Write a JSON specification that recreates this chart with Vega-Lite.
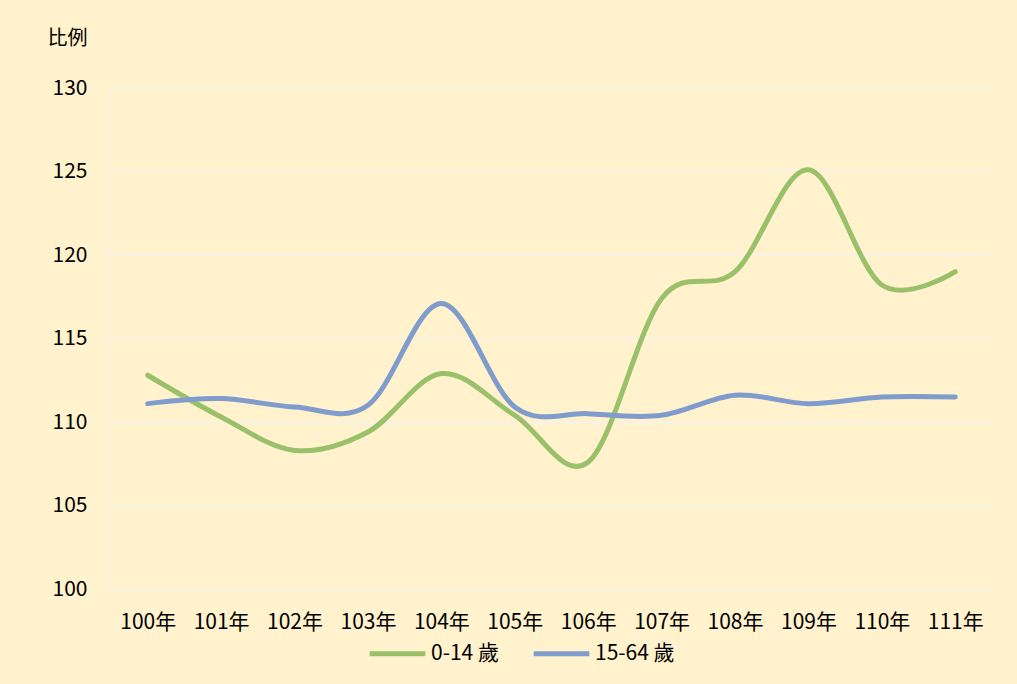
{
  "$schema": "https://vega.github.io/schema/vega-lite/v6.json",
  "width": 881,
  "height": 501,
  "autosize": {"type": "none"},
  "padding": {"left": 111, "top": 88, "right": 25, "bottom": 95},
  "background": "#FFF2CC",
  "config": {
    "view": {"stroke": null},
    "font": "Noto Sans CJK TC"
  },
  "data": {
    "values": [
      {"year": "100年", "group": "0-14 歲", "v": 112.8},
      {"year": "101年", "group": "0-14 歲", "v": 110.3},
      {"year": "102年", "group": "0-14 歲", "v": 108.3},
      {"year": "103年", "group": "0-14 歲", "v": 109.4},
      {"year": "104年", "group": "0-14 歲", "v": 112.9},
      {"year": "105年", "group": "0-14 歲", "v": 110.4},
      {"year": "106年", "group": "0-14 歲", "v": 107.6},
      {"year": "107年", "group": "0-14 歲", "v": 117.4},
      {"year": "108年", "group": "0-14 歲", "v": 119.0},
      {"year": "109年", "group": "0-14 歲", "v": 125.1},
      {"year": "110年", "group": "0-14 歲", "v": 118.2},
      {"year": "111年", "group": "0-14 歲", "v": 119.0},
      {"year": "100年", "group": "15-64 歲", "v": 111.1},
      {"year": "101年", "group": "15-64 歲", "v": 111.4},
      {"year": "102年", "group": "15-64 歲", "v": 110.9},
      {"year": "103年", "group": "15-64 歲", "v": 111.0},
      {"year": "104年", "group": "15-64 歲", "v": 117.1},
      {"year": "105年", "group": "15-64 歲", "v": 110.9},
      {"year": "106年", "group": "15-64 歲", "v": 110.5},
      {"year": "107年", "group": "15-64 歲", "v": 110.4},
      {"year": "108年", "group": "15-64 歲", "v": 111.6},
      {"year": "109年", "group": "15-64 歲", "v": 111.1},
      {"year": "110年", "group": "15-64 歲", "v": 111.5},
      {"year": "111年", "group": "15-64 歲", "v": 111.5}
    ]
  },
  "mark": {"type": "line", "interpolate": "cardinal", "strokeWidth": 5, "strokeCap": "round"},
  "encoding": {
    "x": {
      "field": "year",
      "type": "ordinal",
      "scale": {"type": "point", "padding": 0.5},
      "axis": {
        "title": null,
        "labelAngle": 0,
        "labelFontSize": 21,
        "labelColor": "#000000",
        "ticks": false,
        "domain": false,
        "grid": false,
        "labelPadding": 22
      }
    },
    "y": {
      "field": "v",
      "type": "quantitative",
      "scale": {"domain": [100, 130], "nice": false, "zero": false},
      "axis": {
        "values": [100, 105, 110, 115, 120, 125, 130],
        "title": "比例",
        "titleAngle": 0,
        "titleX": -44,
        "titleY": -50,
        "titleAlign": "center",
        "titleBaseline": "middle",
        "titleFontSize": 20,
        "titleFontWeight": "normal",
        "titleColor": "#000000",
        "labelFontSize": 21,
        "labelColor": "#000000",
        "labelPadding": 18,
        "tickSize": 6,
        "tickColor": "#F2F2F2",
        "domainColor": "#F2F2F2",
        "gridColor": "#F2F2F2",
        "gridWidth": 1.5,
        "gridOpacity": 1
      }
    },
    "color": {
      "field": "group",
      "type": "nominal",
      "scale": {"domain": ["0-14 歲", "15-64 歲"], "range": ["#9BC06A", "#7F9CCC"]},
      "legend": {
        "title": null,
        "orient": "none",
        "legendX": 256,
        "legendY": 535,
        "direction": "horizontal",
        "symbolType": "stroke",
        "symbolSize": 3100,
        "symbolStrokeWidth": 5,
        "labelFontSize": 21,
        "labelColor": "#000000",
        "labelOffset": 3,
        "columnPadding": 24
      }
    }
  }
}
